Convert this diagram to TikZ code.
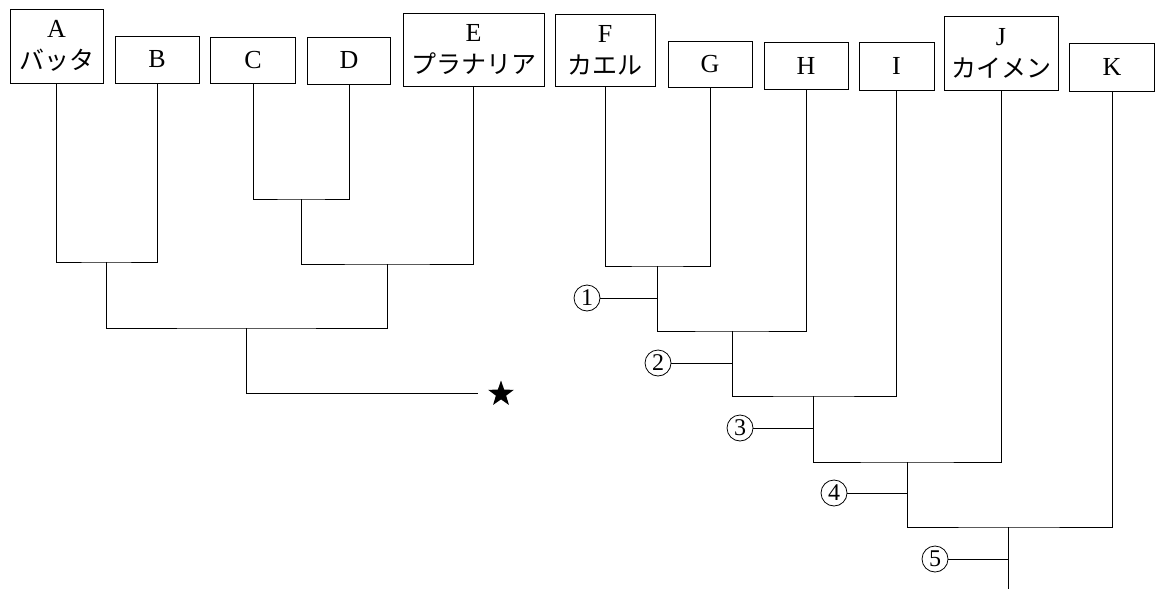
\documentclass[tikz,border=0pt]{standalone}
\usepackage{fontspec}
\setmainfont{Liberation Serif}
\newfontfamily\jpfont{Noto Sans CJK JP}
\usetikzlibrary{shapes.geometric}
\tikzset{
  taxbox/.style={draw, line width=0.9pt, inner sep=0pt, align=center,
    font=\fontsize{26}{32}\selectfont},
  branch/.style={line width=0.9pt},
  numlabel/.style={draw, circle, line width=0.8pt, inner sep=0pt, minimum size=26pt,
    font=\fontsize{24}{24}\selectfont},
  starmark/.style={star, star points=5, star point ratio=2.5, fill=black, inner sep=0pt, minimum size=27pt}
}
\begin{document}
\begin{tikzpicture}[x=1pt, y=-1pt]
\useasboundingbox (0,0) rectangle (1158,589);
% taxa boxes
\node[taxbox, minimum width=93pt, minimum height=74pt] (A) at (56.5,46) {A\\{\jpfont\fontsize{25}{32}\selectfont バッタ}};
\node[taxbox, minimum width=84pt, minimum height=47pt] (B) at (157,59.5) {B};
\node[taxbox, minimum width=85pt, minimum height=46pt] (C) at (253,60) {C};
\node[taxbox, minimum width=83pt, minimum height=47pt] (D) at (349,60.5) {D};
\node[taxbox, minimum width=141pt, minimum height=73pt] (E) at (473.5,49.5) {E\\{\jpfont\fontsize{25}{32}\selectfont プラナリア}};
\node[taxbox, minimum width=100pt, minimum height=72pt] (F) at (605,50) {F\\{\jpfont\fontsize{25}{32}\selectfont カエル}};
\node[taxbox, minimum width=84pt, minimum height=46pt] (G) at (710,64) {G};
\node[taxbox, minimum width=84pt, minimum height=47pt] (H) at (806,65.5) {H};
\node[taxbox, minimum width=75pt, minimum height=48pt] (I) at (896.5,66) {I};
\node[taxbox, minimum width=114pt, minimum height=74pt] (J) at (1001,53) {J\\{\jpfont\fontsize{25}{32}\selectfont カイメン}};
\node[taxbox, minimum width=85pt, minimum height=48pt] (K) at (1112,67) {K};
% left tree
\coordinate (ab) at (106,262);
\coordinate (cd) at (301,199);
\coordinate (cde) at (387,264);
\coordinate (root) at (246,328);
\coordinate (starend) at (478,393);
\node[starmark] (star) at (501,394) {};
\draw[branch] (A.south) |- (ab) -| (B.south);
\draw[branch] (C.south) |- (cd) -| (D.south);
\draw[branch] (cd) |- (cde) -| (E.south);
\draw[branch] (ab) |- (root) -| (cde);
\draw[branch] (root) |- (starend);
% right tree
\coordinate (fg) at (657,266);
\coordinate (fgh) at (732,331);
\coordinate (fghi) at (813,396);
\coordinate (fghij) at (907,462);
\coordinate (all) at (1008,527);
\coordinate (bottom) at (1008,589);
\draw[branch] (F.south) |- (fg) -| (G.south);
\draw[branch] (fg) |- (fgh) -| (H.south);
\draw[branch] (fgh) |- (fghi) -| (I.south);
\draw[branch] (fghi) |- (fghij) -| (J.south);
\draw[branch] (fghij) |- (all) -| (K.south);
\draw[branch] (all) -- (bottom);
% numbered labels
\node[numlabel] (n1) at (587,298) {1};
\node[numlabel] (n2) at (658,363) {2};
\node[numlabel] (n3) at (740,428) {3};
\node[numlabel] (n4) at (834,493) {4};
\node[numlabel] (n5) at (935,559) {5};
\draw[branch] (n1.east) -- (n1.east -| fg);
\draw[branch] (n2.east) -- (n2.east -| fgh);
\draw[branch] (n3.east) -- (n3.east -| fghi);
\draw[branch] (n4.east) -- (n4.east -| fghij);
\draw[branch] (n5.east) -- (n5.east -| all);
\end{tikzpicture}
\end{document}
